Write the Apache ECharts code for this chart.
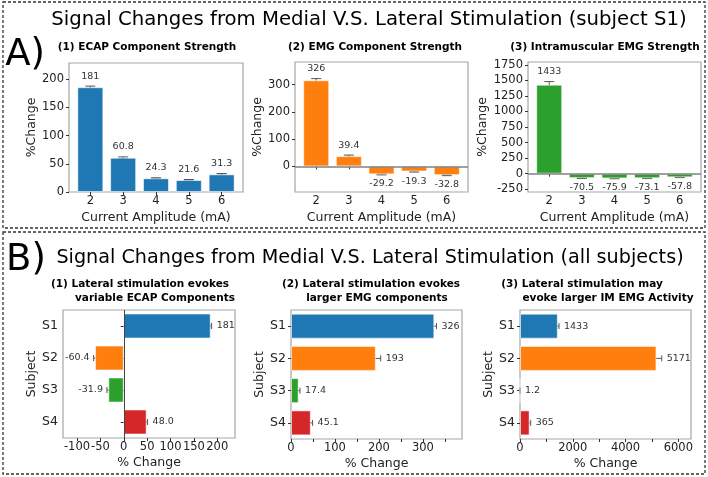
<!DOCTYPE html>
<html>
<head>
<meta charset="utf-8">
<title>Signal Changes from Medial V.S. Lateral Stimulation</title>
<script src="https://cdn.jsdelivr.net/npm/echarts@6/dist/echarts.min.js"></script>
<style>
  html, body { margin: 0; padding: 0; background: #fff; }
  #chart { width: 708px; height: 477px; }
</style>
</head>
<body>
<div id="chart"></div>
<script>
// ---- data: panel A (subject S1, per current amplitude) ----
var amplitudes = [2, 3, 4, 5, 6];

var ecapS1 = [186, 60.8, 24.3, 21.2, 31.3];
var ecapS1Err = [2, 1.5, 1, 1, 1.5];
var ecapS1Labels = ['181', '60.8', '24.3', '21.6', '31.3'];

var emgS1 = [316, 37.5, -29.2, -18.8, -32.0];
var emgS1Err = [6, 4, 2, 2, 2];
var emgS1Labels = ['326', '39.4', '-29.2', '-19.3', '-32.8'];

var imS1 = [1431, -70.5, -75.9, -73.1, -57.8];
var imS1Err = [50, 5, 5, 5, 5];
var imS1Labels = ['1433', '-70.5', '-75.9', '-73.1', '-57.8'];

// ---- data: panel B (all subjects) ----
var subjects = ['S1', 'S2', 'S3', 'S4'];

var ecapAll = [186, -61.5, -33.0, 49.0];
var ecapAllErr = [2, 3, 3, 2];
var ecapAllLabels = ['181', '-60.4', '-31.9', '48.0'];

var emgAll = [326, 193, 17.4, 45.1];
var emgAllErr = [5, 11, 3, 4];
var emgAllLabels = ['326', '193', '17.4', '45.1'];

var imAll = [1433, 5171, 1.2, 365];
var imAllErr = [45, 200, 0, 40];
var imAllLabels = ['1433', '5171', '1.2', '365'];

// ---- tick values ----
var ticksA1 = [0, 50, 100, 150, 200];
var ticksA2 = [0, 100, 200, 300];
var ticksA3 = [-250, 0, 250, 500, 750, 1000, 1250, 1500, 1750];
var ticksB1 = [-100, -50, 0, 50, 100, 150, 200];
var ticksB2 = [0, 50, 100, 150, 200, 250, 300, 350];
var labelsB2 = [0, 100, 200, 300];
var ticksB3 = [0, 1000, 2000, 3000, 4000, 5000, 6000];
var labelsB3 = [0, 2000, 4000, 6000];

var palette = ['#1f77b4', '#ff7f0e', '#2ca02c', '#d62728'];
var font = "'DejaVu Sans', Verdana, sans-serif";

var myChart = echarts.init(document.getElementById('chart'));

function plain(v) { return String(v); }

// value axis with fixed range and explicit ticks
function valueAxis(idx, min, max, ticks, labels, name, nameGap, isY) {
    return {
        type: 'value',
        gridIndex: idx,
        min: min,
        max: max,
        name: name,
        nameLocation: 'middle',
        nameGap: nameGap,
        nameRotate: isY ? 90 : 0,
        nameTextStyle: { fontFamily: font, fontSize: 12.5, color: '#222' },
        axisLine: { show: false },
        splitLine: { show: false },
        axisTick: { show: true, length: 3, lineStyle: { color: '#333' }, customValues: ticks },
        axisLabel: {
            customValues: labels || ticks,
            formatter: plain,
            fontFamily: font,
            fontSize: 11.5,
            color: '#222',
            margin: isY ? 5 : 3
        }
    };
}

function subjectAxis(idx, nameGap) {
    return {
        type: 'category',
        gridIndex: idx,
        data: subjects,
        inverse: true,
        name: 'Subject',
        nameLocation: 'middle',
        nameGap: nameGap,
        nameRotate: 90,
        nameTextStyle: { fontFamily: font, fontSize: 12.5, color: '#222' },
        axisLine: { show: false },
        splitLine: { show: false },
        axisTick: { show: true, alignWithLabel: true, length: 3, lineStyle: { color: '#333' } },
        axisLabel: { fontFamily: font, fontSize: 12.5, color: '#222', margin: 5 }
    };
}

var barEdge = { borderColor: 'rgba(255,255,255,0.55)', borderWidth: 1 };

// vertical bars (panel A)
function ampBars(idx, vals, color, zeroLine) {
    var s = {
        type: 'bar',
        xAxisIndex: idx,
        yAxisIndex: idx,
        barWidth: 26,
        z: 3,
        itemStyle: Object.assign({ color: color }, barEdge),
        data: amplitudes.map(function (a, i) { return [a, vals[i]]; })
    };
    if (zeroLine) {
        s.markLine = {
            silent: true, symbol: 'none', label: { show: false },
            lineStyle: { color: '#808080', width: 1.5, type: 'solid' },
            data: [{ yAxis: 0 }]
        };
    }
    return s;
}

// horizontal bars (panel B)
function subjectBars(idx, vals, zeroLine) {
    var s = {
        type: 'bar',
        xAxisIndex: idx,
        yAxisIndex: idx,
        barWidth: 25,
        z: 3,
        data: vals.map(function (v, i) {
            return { value: v, itemStyle: Object.assign({ color: palette[i] }, barEdge) };
        })
    };
    if (zeroLine) {
        s.markLine = {
            silent: true, symbol: 'none', label: { show: false },
            lineStyle: { color: '#444', width: 1, type: 'solid' },
            data: [{ xAxis: 0 }]
        };
    }
    return s;
}

// error bars + value labels
function errBars(idx, vals, errs, labels, horizontal) {
    var data = vals.map(function (v, i) {
        return horizontal ? [v - errs[i], v + errs[i], i] : [amplitudes[i], v - errs[i], v + errs[i]];
    });
    return {
        type: 'custom',
        xAxisIndex: idx,
        yAxisIndex: idx,
        silent: true,
        z: 2,
        encode: horizontal ? { x: [0, 1], y: 2 } : { x: 0, y: [1, 2] },
        data: data,
        renderItem: function (params, api) {
            var i = params.dataIndex;
            var v = vals[i];
            var line = { stroke: '#555', lineWidth: 1 };
            var lo, hi, kids;
            if (horizontal) {
                lo = api.coord([api.value(0), api.value(2)]);
                hi = api.coord([api.value(1), api.value(2)]);
                kids = [
                    { type: 'line', shape: { x1: lo[0], y1: lo[1], x2: hi[0], y2: hi[1] }, style: line },
                    { type: 'line', shape: { x1: lo[0], y1: lo[1] - 3, x2: lo[0], y2: lo[1] + 3 }, style: line },
                    { type: 'line', shape: { x1: hi[0], y1: hi[1] - 3, x2: hi[0], y2: hi[1] + 3 }, style: line },
                    { type: 'text', x: v >= 0 ? hi[0] + 5 : lo[0] - 4, y: hi[1],
                      style: { text: labels[i], align: v >= 0 ? 'left' : 'right', verticalAlign: 'middle',
                               fontFamily: font, fontSize: 9.5, fill: '#333' } }
                ];
            } else {
                lo = api.coord([api.value(0), api.value(1)]);
                hi = api.coord([api.value(0), api.value(2)]);
                kids = [
                    { type: 'line', shape: { x1: lo[0], y1: lo[1], x2: hi[0], y2: hi[1] }, style: line },
                    { type: 'line', shape: { x1: lo[0] - 5, y1: lo[1], x2: lo[0] + 5, y2: lo[1] }, style: line },
                    { type: 'line', shape: { x1: hi[0] - 5, y1: hi[1], x2: hi[0] + 5, y2: hi[1] }, style: line },
                    { type: 'text', x: hi[0], y: v >= 0 ? hi[1] - 5 : lo[1] + 4,
                      style: { text: labels[i], align: 'center', verticalAlign: v >= 0 ? 'bottom' : 'top',
                               fontFamily: font, fontSize: 9.5, fill: '#333' } }
                ];
            }
            return { type: 'group', children: kids };
        }
    };
}

function txt(x, y, text, size, weight) {
    return {
        type: 'text', x: x, y: y, silent: true,
        style: { text: text, align: 'center', verticalAlign: 'middle', fontFamily: font,
                 fontSize: size, fontWeight: weight || 'normal', fill: '#000' }
    };
}

function dashedBox(x, y, w, h) {
    return {
        type: 'rect', silent: true,
        shape: { x: x, y: y, width: w, height: h },
        style: { fill: 'transparent', stroke: '#333', lineWidth: 1.3, lineDash: [3, 2] }
    };
}

var gridStyle = { show: true, borderColor: '#a6a6a6', borderWidth: 1.2 };

var option = {
    animation: false,
    backgroundColor: '#fff',
    grid: [
        Object.assign({ left: 69, top: 63, width: 174, height: 129 }, gridStyle),
        Object.assign({ left: 295, top: 62, width: 173, height: 130 }, gridStyle),
        Object.assign({ left: 528, top: 62, width: 173, height: 130 }, gridStyle),
        Object.assign({ left: 63, top: 310, width: 172, height: 128 }, gridStyle),
        Object.assign({ left: 291, top: 310, width: 171, height: 129 }, gridStyle),
        Object.assign({ left: 520, top: 310, width: 171, height: 129 }, gridStyle)
    ],
    xAxis: [
        valueAxis(0, 1.35, 6.65, amplitudes, null, 'Current Amplitude (mA)', 19, false),
        valueAxis(1, 1.35, 6.65, amplitudes, null, 'Current Amplitude (mA)', 19, false),
        valueAxis(2, 1.35, 6.65, amplitudes, null, 'Current Amplitude (mA)', 19, false),
        valueAxis(3, -130, 238, ticksB1, null, '% Change', 18, false),
        valueAxis(4, 0, 389, ticksB2, labelsB2, '% Change', 18, false),
        valueAxis(5, 0, 6480, ticksB3, labelsB3, '% Change', 18, false)
    ],
    yAxis: [
        valueAxis(0, 0, 229, ticksA1, null, '%Change', 27, true),
        valueAxis(1, -94, 383, ticksA2, null, '%Change', 31, true),
        valueAxis(2, -294, 1796, ticksA3, null, '%Change', 39, true),
        subjectAxis(3, 21),
        subjectAxis(4, 23),
        subjectAxis(5, 23)
    ],
    series: [
        ampBars(0, ecapS1, palette[0], false),
        errBars(0, ecapS1, ecapS1Err, ecapS1Labels, false),
        ampBars(1, emgS1, palette[1], true),
        errBars(1, emgS1, emgS1Err, emgS1Labels, false),
        ampBars(2, imS1, palette[2], true),
        errBars(2, imS1, imS1Err, imS1Labels, false),
        subjectBars(3, ecapAll, true),
        errBars(3, ecapAll, ecapAllErr, ecapAllLabels, true),
        subjectBars(4, emgAll, false),
        errBars(4, emgAll, emgAllErr, emgAllLabels, true),
        subjectBars(5, imAll, false),
        errBars(5, imAll, imAllErr, imAllLabels, true)
    ],
    graphic: [
        dashedBox(3, 2, 702, 226),
        dashedBox(3, 232, 702, 242),
        txt(369, 20, 'Signal Changes from Medial V.S. Lateral Stimulation (subject S1)', 19.7),
        txt(370, 258, 'Signal Changes from Medial V.S. Lateral Stimulation (all subjects)', 19.2),
        txt(25, 55, 'A)', 37),
        txt(26, 260, 'B)', 37),
        txt(147, 47, '(1) ECAP Component Strength', 10.5, 'bold'),
        txt(375, 47, '(2) EMG Component Strength', 10.5, 'bold'),
        txt(605, 47, '(3) Intramuscular EMG Strength', 10.5, 'bold'),
        txt(140, 284, '(1) Lateral stimulation evokes', 10.5, 'bold'),
        txt(155, 298, 'variable ECAP Components', 10.5, 'bold'),
        txt(371, 284, '(2) Lateral stimulation evokes', 10.5, 'bold'),
        txt(377, 298, 'larger EMG components', 10.5, 'bold'),
        txt(582, 284, '(3) Lateral stimulation may', 10.5, 'bold'),
        txt(608, 298, 'evoke larger IM EMG Activity', 10.5, 'bold')
    ]
};

myChart.setOption(option);
</script>
</body>
</html>
